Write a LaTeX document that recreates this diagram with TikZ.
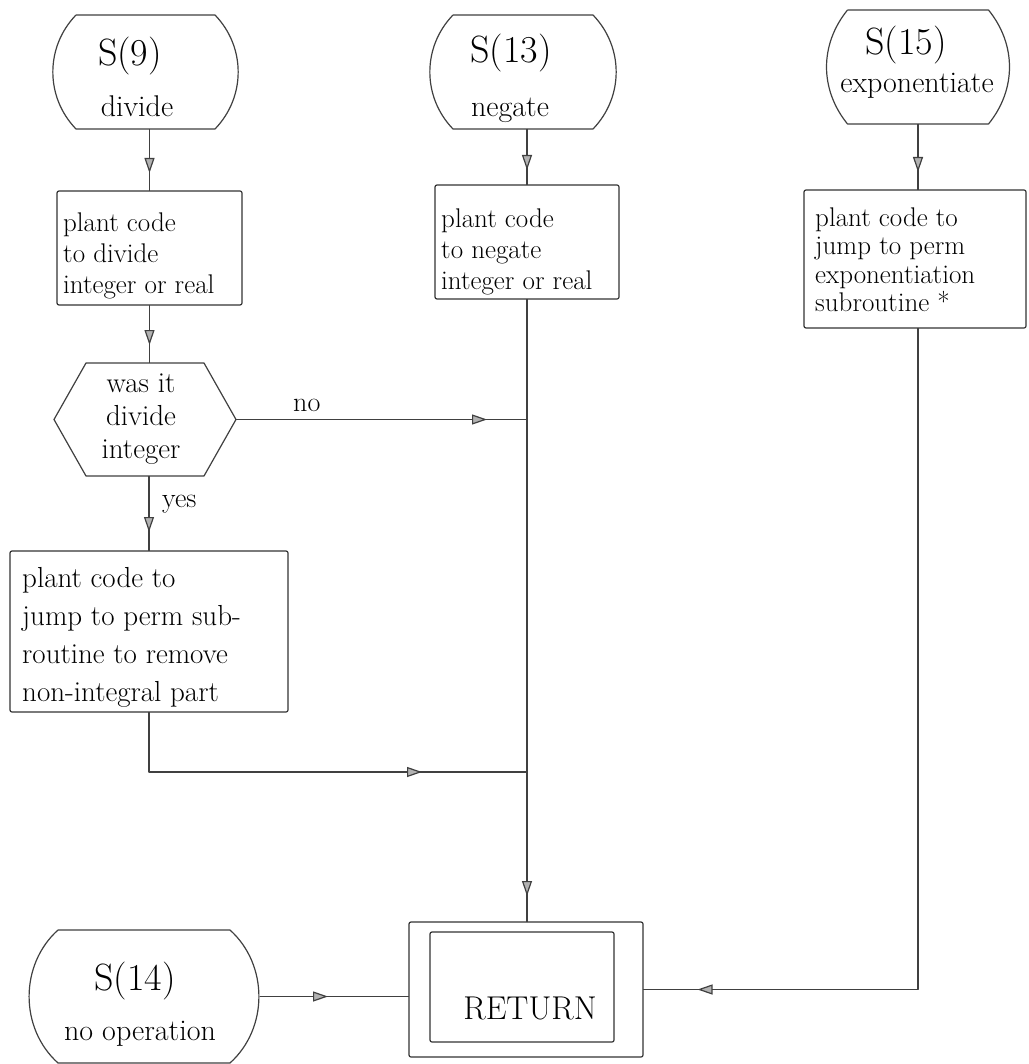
\documentclass[tikz,border=0pt]{standalone}
\usepackage{fontspec}
\usetikzlibrary{arrows.meta,decorations.markings,calc}
\newcommand\fbig{\fontsize{38}{40}\selectfont}
\newcommand\flab{\fontsize{30}{34}\selectfont}
\newcommand\ftxt{\fontsize{27}{31}\selectfont}
\newcommand\fret{\fontsize{33}{36}\selectfont}
\newcommand\termline[3]{\draw[ln] ([xshift=#2pt]#1.north west) -- ([xshift=-#2pt]#1.north east) to[bend left=#3] ([xshift=-#2pt]#1.south east) -- ([xshift=#2pt]#1.south west) to[bend left=#3] ([xshift=#2pt]#1.north west);}
\begin{document}
\begin{tikzpicture}[x=1pt,y=-1pt,
  ln/.style={draw=black!75, line width=1.2pt, line join=round},
  flow/.style={ln, postaction={decorate}, decoration={markings, mark=at position #1 with {\arrow{Triangle[length=15pt,width=10pt,fill=black!30]}}}},
  shp/.style={inner sep=0pt, outer sep=0pt},
  box/.style={shp, draw=black!80, line width=1.2pt, rounded corners=2pt},
  txt/.style={inner sep=0pt, align=left, font=\ftxt},
  big/.style={inner sep=0pt, font=\fbig},
  lab/.style={inner sep=0pt, font=\flab}]
\fill[white] (0,0) rectangle (1028,1064);
\useasboundingbox (0,0) rectangle (1028,1064);

% terminals
\node[shp, minimum width=185pt, minimum height=114pt] (s9) at (145.5,72) {};
\termline{s9}{23}{44}
\node[big, anchor=base] (s9a) at (130,66) {S(9)};
\node[lab, anchor=base] (s9b) at (137,117) {divide};

\node[shp, minimum width=186pt, minimum height=114pt] (s13) at (523,72) {};
\termline{s13}{23}{44}
\node[big, anchor=base] (s13a) at (511,63) {S(13)};
\node[lab, anchor=base] (s13b) at (510,117) {negate};

\node[shp, minimum width=181pt, minimum height=114pt] (s15) at (918,67) {};
\termline{s15}{20}{39}
\node[big, anchor=base] (s15a) at (906,55) {S(15)};
\node[lab, anchor=base] (s15b) at (917,93) {exponentiate};

\node[shp, minimum width=232pt, minimum height=133pt] (s14) at (144,996.5) {};
\termline{s14}{30}{48}
\node[big, anchor=base] (s14a) at (135,990) {S(14)};
\node[lab, anchor=base] (s14b) at (140,1040) {no operation};

% process boxes
\node[box, minimum width=185pt, minimum height=114pt] (div) at (149.5,248) {};
\node[txt, anchor=west] (divt) at (63,256) {plant code\\to divide\\integer or real};

\node[box, minimum width=184pt, minimum height=114pt] (neg) at (527,242) {};
\node[txt, anchor=west] (negt) at (441,252) {plant code\\to negate\\integer or real};

\node[box, minimum width=222pt, minimum height=138pt] (exp) at (915,259) {};
\node[txt, anchor=west, font=\fontsize{27}{28.5}\selectfont] (expt) at (815,259.5) {plant code to\\jump to perm\\exponentiation\\subroutine *};

\node[box, minimum width=278pt, minimum height=161pt] (perm) at (149,631.5) {};
\node[txt, anchor=west, font=\fontsize{29}{38}\selectfont] (permt) at (22,637.5) {plant code to\\jump to perm sub-\\routine to remove\\non-integral part};

% decision
\node[shp, minimum width=118pt, minimum height=113pt] (hex) at (145,419.5) {};
\coordinate (hexE) at ([xshift=32pt]hex.east);
\coordinate (hexW) at ([xshift=-32pt]hex.west);
\draw[ln] (hex.north west) -- (hex.north east) -- (hexE) -- (hex.south east) -- (hex.south west) -- (hexW) -- cycle;
\node[inner sep=0pt, align=center, font=\fontsize{29}{33}\selectfont] (hext) at (141,419.5) {was it\\divide\\integer};

% return
\node[box, minimum width=234pt, minimum height=135pt] (ret) at (526,989.5) {};
\node[box, minimum width=184pt, minimum height=110pt] (reti) at (522,987) {};
\node[inner sep=0pt, font=\fret, anchor=base] (rett) at (530,1019) {RETURN};

% junctions
\coordinate (jno) at (neg.south |- hexE);
\coordinate (jperm) at (527,772);

% connectors
\draw[flow=44pt] (div.north |- s9.south) -- (div.north);
\draw[flow=40pt] (div.south) -- (div.south |- hex.north);
\draw[flow=56pt] (perm.north |- hex.south) -- (perm.north);
\draw[flow=251pt] (hexE) -- (jno);
\draw[flow=333pt] (perm.south) |- (jperm);
\draw[flow=41pt] (neg.north |- s13.south) -- (neg.north);
\draw[flow=597pt] (neg.south) -- (neg.south |- ret.north);
\draw[flow=48pt] (s15.south) -- (s15.south |- exp.north);
\draw[flow=882pt] (s15.south |- exp.south) |- (ret.east);
\draw[flow=68pt] (s14.east) -- (s14.east -| ret.west);

% labels
\node[lab, anchor=base west, font=\fontsize{28}{30}\selectfont] (nolbl) at (293,411) {no};
\node[lab, anchor=base west, font=\fontsize{28}{30}\selectfont] (yeslbl) at (162,507) {yes};
\end{tikzpicture}
\end{document}
